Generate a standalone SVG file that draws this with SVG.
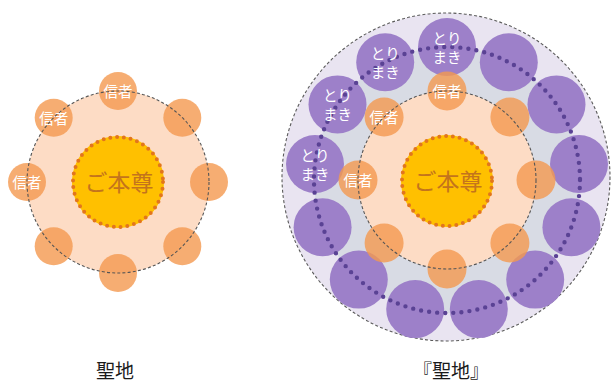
<svg xmlns="http://www.w3.org/2000/svg" width="611" height="385" viewBox="0 0 611 385">
  <defs>
    <style>
      .bg { fill: #ffffff; }
      .peach { fill: #FDDCC5; }
      .dash { fill: none; stroke: #555555; stroke-width: 1.1; stroke-dasharray: 3 2.2; }
      .orb { fill: #F4994F; fill-opacity: 0.8; }
      .sun { fill: #FFC000; }
      .sundots { fill: none; stroke: #E2761C; stroke-width: 4; stroke-linecap: round; stroke-dasharray: 0 6.8; }
      .outer { fill: #E9E4F1; stroke: #5a5a5a; stroke-width: 1.1; stroke-dasharray: 3 2.2; }
      .band { fill: #D8DBE4; }
      .pur { fill: #9D80C9; }
      .purdots { fill: none; stroke: #5A4294; stroke-width: 4.4; stroke-linecap: round; stroke-dasharray: 0 8.1; }
      .lbl { font-family: "Noto Sans CJK JP", "Noto Sans", sans-serif; fill: #ffffff; font-size: 14.5px; text-anchor: middle; }
      .core { font-family: "Noto Sans CJK JP", "Noto Sans", sans-serif; fill: #C4741C; font-size: 23px; text-anchor: middle; }
      .cap { font-family: "Noto Sans CJK JP", "Noto Sans", sans-serif; fill: #1a1a1a; font-size: 19px; text-anchor: middle; }
    </style>
  </defs>
  <rect class="bg" x="0" y="0" width="611" height="385"/>

  <!-- Left diagram: 聖地 -->
  <g id="left-area">
    <circle class="peach" cx="118" cy="182" r="91"/>
  </g>
  <g id="left-believers">
    <g id="lb0"><circle class="orb" cx="118" cy="91" r="19"/><text class="lbl" x="118" y="97">信者</text></g>
    <g id="lb1"><circle class="orb" cx="182.3" cy="117.7" r="19"/></g>
    <g id="lb2"><circle class="orb" cx="209" cy="182" r="19"/></g>
    <g id="lb3"><circle class="orb" cx="182.3" cy="246.3" r="19"/></g>
    <g id="lb4"><circle class="orb" cx="118" cy="273" r="19"/></g>
    <g id="lb5"><circle class="orb" cx="53.7" cy="246.3" r="19"/></g>
    <g id="lb6"><circle class="orb" cx="27" cy="182" r="19"/><text class="lbl" x="27" y="188">信者</text></g>
    <g id="lb7"><circle class="orb" cx="53.7" cy="117.7" r="19"/><text class="lbl" x="53.7" y="123.7">信者</text></g>
  </g>
  <g id="left-ring">
    <circle class="dash" cx="118" cy="182" r="91"/>
  </g>
  <g id="left-core">
    <circle class="sun" cx="118" cy="182" r="46"/>
    <circle class="sundots" cx="118" cy="182" r="45"/>
    <text class="core" x="119" y="191">ご本尊</text>
  </g>
  <g id="left-caption"><text class="cap" x="115" y="378">聖地</text></g>

  <!-- Right diagram: 『聖地』 -->
  <g id="right-outer">
    <circle class="outer" cx="446" cy="177" r="164"/>
    <circle class="band" cx="447" cy="180" r="133"/>
  </g>
  <g id="right-surround">
    <g id="p0"><circle class="pur" cx="447" cy="47" r="29"/></g>
    <g id="p1"><circle class="pur" cx="508.8" cy="62.2" r="29"/></g>
    <g id="p2"><circle class="pur" cx="556.5" cy="104.4" r="29"/></g>
    <g id="p3"><circle class="pur" cx="579" cy="164" r="29"/></g>
    <g id="p4"><circle class="pur" cx="571.4" cy="227.2" r="29"/></g>
    <g id="p5"><circle class="pur" cx="535.2" cy="279.6" r="29"/></g>
    <g id="p6"><circle class="pur" cx="478.8" cy="309.1" r="29"/></g>
    <g id="p7"><circle class="pur" cx="415.2" cy="309.1" r="29"/></g>
    <g id="p8"><circle class="pur" cx="358.8" cy="279.6" r="29"/></g>
    <g id="p9"><circle class="pur" cx="322.6" cy="227.2" r="29"/></g>
    <g id="p10"><circle class="pur" cx="315" cy="164" r="29"/></g>
    <g id="p11"><circle class="pur" cx="337.5" cy="104.4" r="29"/></g>
    <g id="p12"><circle class="pur" cx="385.2" cy="62.2" r="29"/></g>
  </g>
  <g id="right-surround-ring">
    <circle class="purdots" cx="447" cy="180" r="133"/>
  </g>
  <g id="right-surround-labels">
    <text class="lbl" x="447" y="44">とり</text><text class="lbl" x="447" y="63">まき</text>
    <text class="lbl" x="385.2" y="59.2">とり</text><text class="lbl" x="385.2" y="78.2">まき</text>
    <text class="lbl" x="337.5" y="101.4">とり</text><text class="lbl" x="337.5" y="120.4">まき</text>
    <text class="lbl" x="315" y="161">とり</text><text class="lbl" x="315" y="180">まき</text>
  </g>
  <g id="right-area">
    <circle class="peach" cx="447" cy="180" r="89"/>
  </g>
  <g id="right-believers">
    <g id="rb0"><circle class="orb" cx="447" cy="91" r="19.5"/><text class="lbl" x="447" y="97">信者</text></g>
    <g id="rb1"><circle class="orb" cx="509.9" cy="117.1" r="19.5"/></g>
    <g id="rb2"><circle class="orb" cx="536" cy="180" r="19.5"/></g>
    <g id="rb3"><circle class="orb" cx="509.9" cy="242.9" r="19.5"/></g>
    <g id="rb4"><circle class="orb" cx="447" cy="269" r="19.5"/></g>
    <g id="rb5"><circle class="orb" cx="384.1" cy="242.9" r="19.5"/></g>
    <g id="rb6"><circle class="orb" cx="358" cy="180" r="19.5"/><text class="lbl" x="358" y="186">信者</text></g>
    <g id="rb7"><circle class="orb" cx="384.1" cy="117.1" r="19.5"/><text class="lbl" x="384.1" y="123.1">信者</text></g>
  </g>
  <g id="right-ring">
    <circle class="dash" cx="447" cy="180" r="89"/>
  </g>
  <g id="right-core">
    <circle class="sun" cx="447" cy="181" r="46"/>
    <circle class="sundots" cx="447" cy="181" r="45"/>
    <text class="core" x="448" y="190">ご本尊</text>
  </g>
  <g id="right-caption"><text class="cap" x="451" y="378">『聖地』</text></g>
</svg>
